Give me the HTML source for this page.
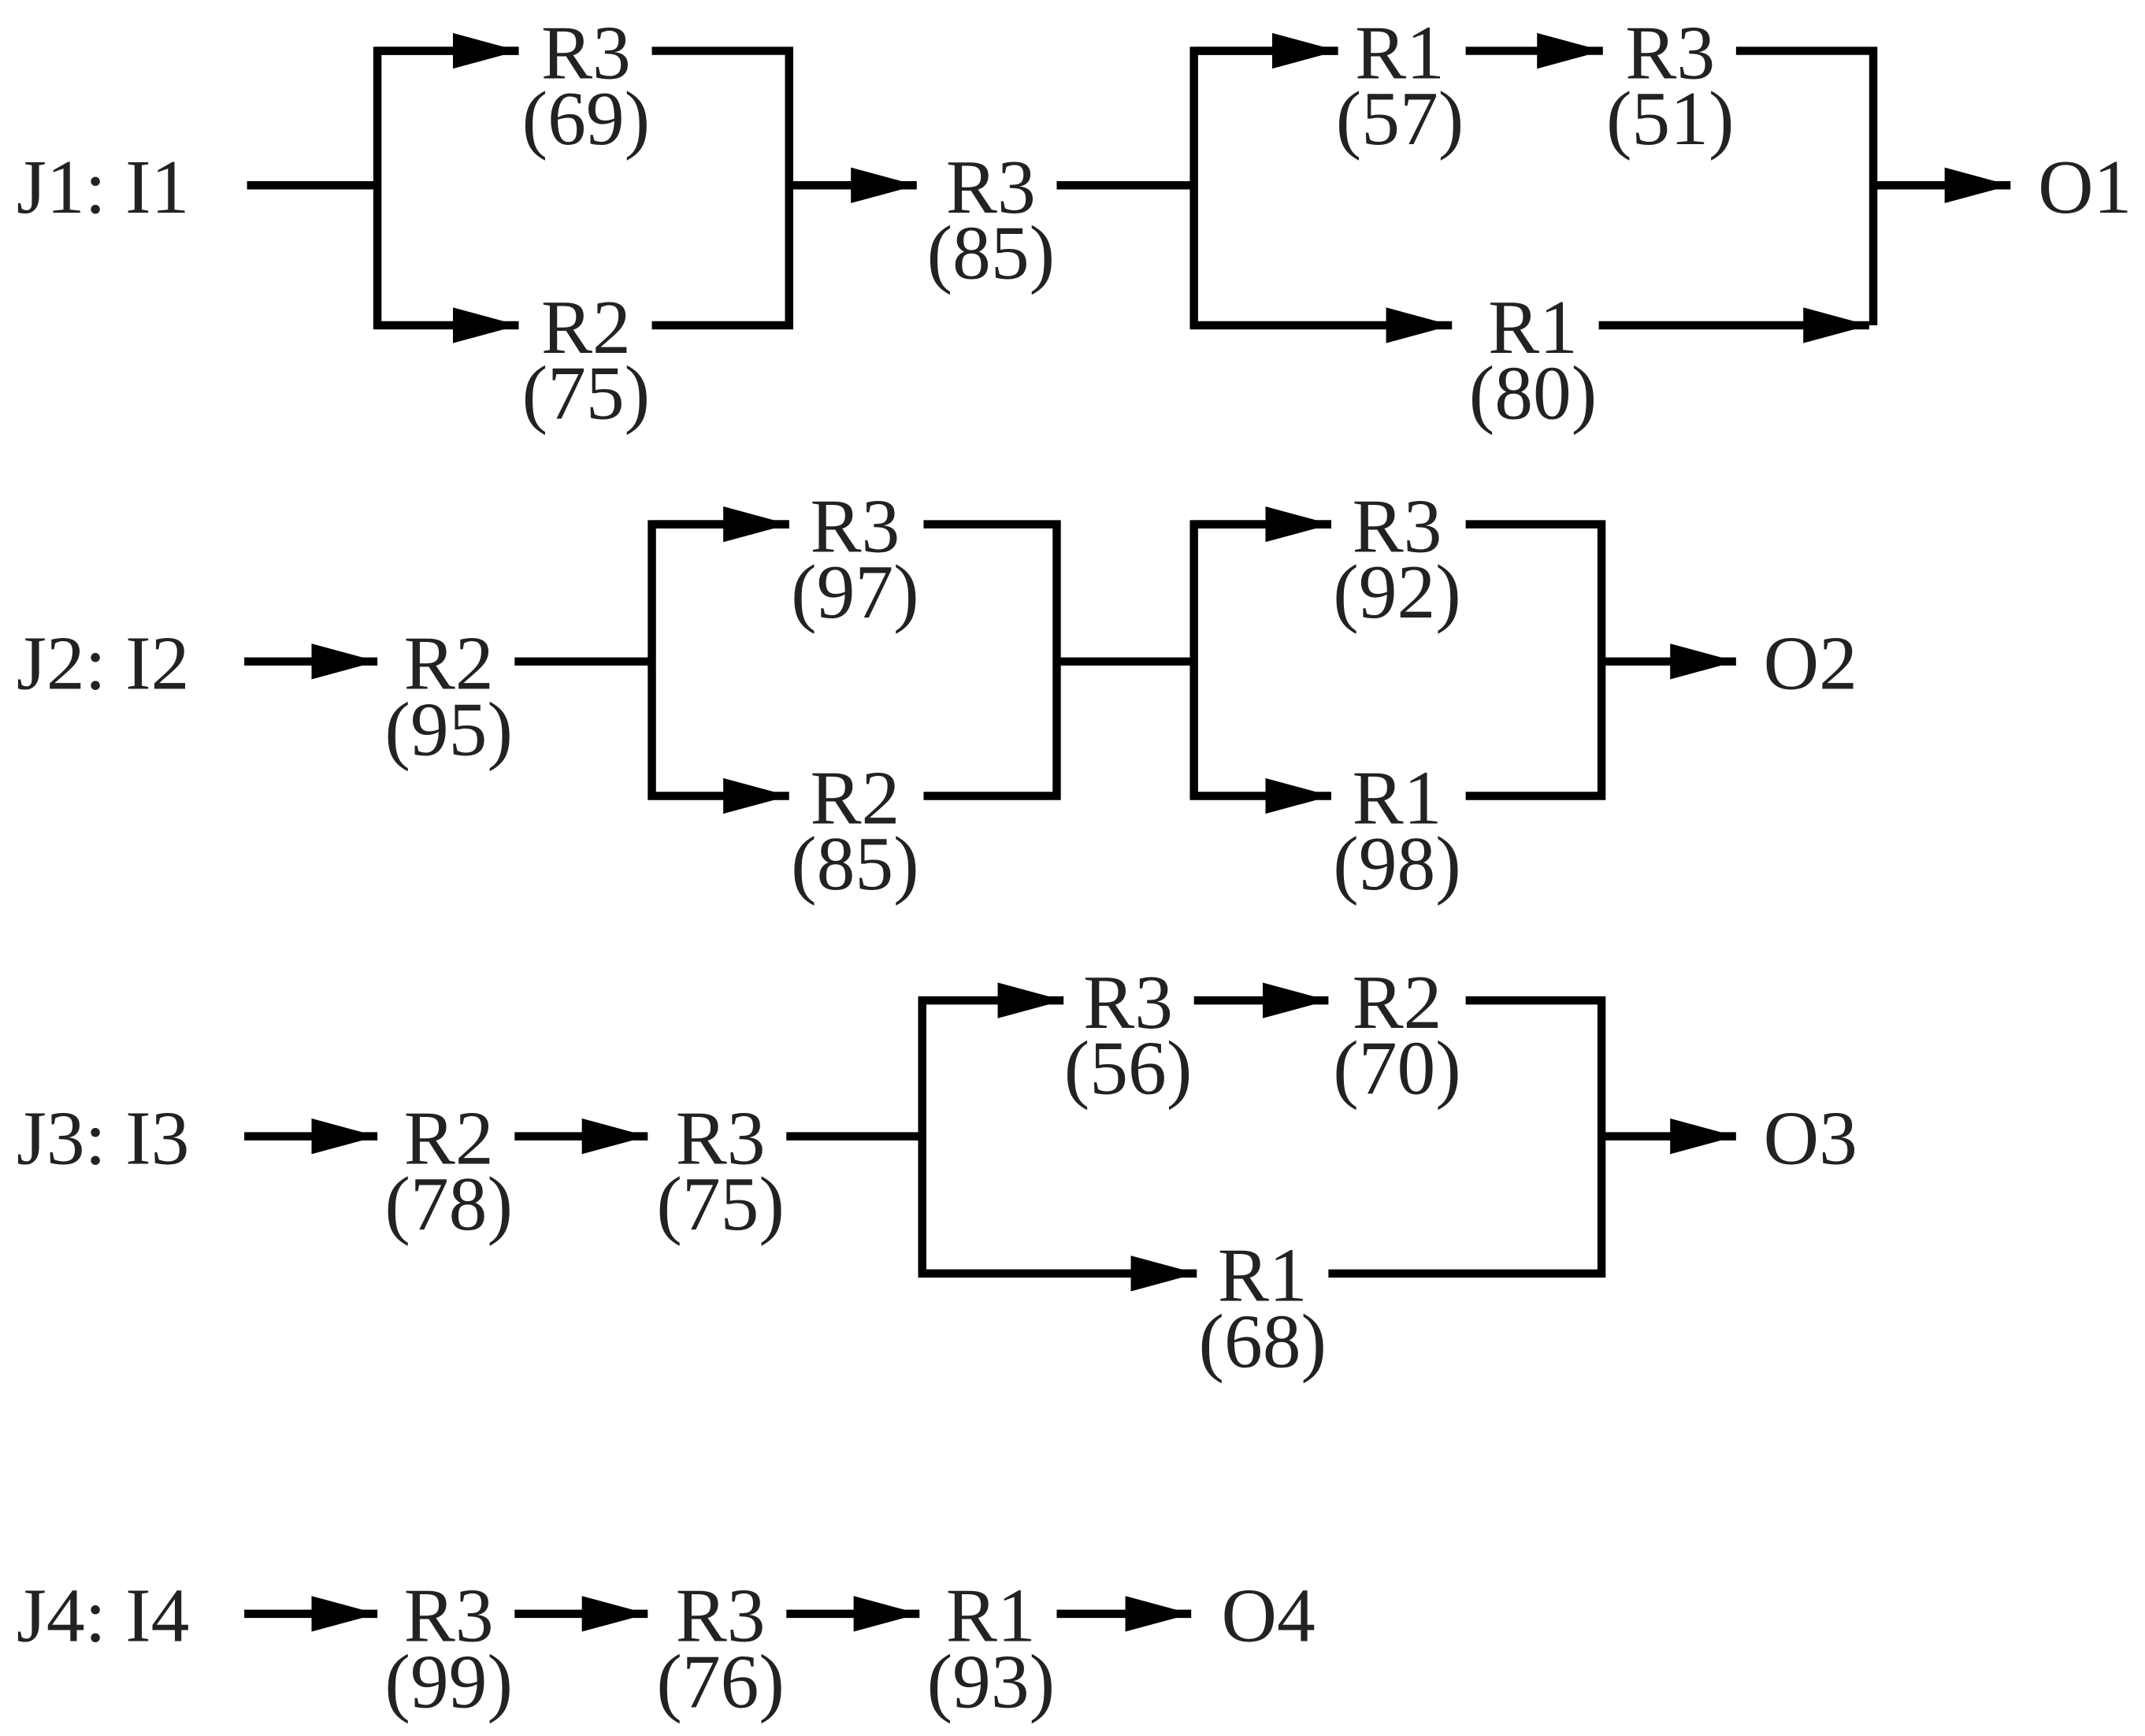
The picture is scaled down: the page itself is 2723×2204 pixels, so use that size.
<!DOCTYPE html>
<html><head><meta charset="utf-8"><style>html,body{margin:0;padding:0;background:#fff}svg{display:block}</style></head>
<body>
<svg xmlns="http://www.w3.org/2000/svg" width="2723" height="2204" viewBox="0 0 1563 1265">
<defs>
<marker id="a" markerUnits="userSpaceOnUse" markerWidth="50" markerHeight="30" refX="48" refY="13" orient="auto">
<polygon points="0,0 48,13 0,26" fill="#000"/>
</marker>
</defs>
<g stroke="#000" stroke-width="6" fill="none" stroke-linejoin="miter">
<!-- Row 1 -->
<line x1="180" y1="135" x2="275" y2="135"/>
<polyline points="378,37 275,37 275,237 378,237" marker-end="url(#a)"/>
<line x1="275" y1="37" x2="378" y2="37" marker-end="url(#a)"/>
<polyline points="475,37 575,37 575,237 475,237"/>
<line x1="575" y1="135" x2="668" y2="135" marker-end="url(#a)"/>
<line x1="770" y1="135" x2="870" y2="135"/>
<polyline points="975,37 870,37 870,237 1058,237" marker-end="url(#a)"/>
<line x1="870" y1="37" x2="975" y2="37" marker-end="url(#a)"/>
<line x1="1068" y1="37" x2="1168" y2="37" marker-end="url(#a)"/>
<polyline points="1265,37 1365,37 1365,237"/>
<line x1="1165" y1="237" x2="1362" y2="237" marker-end="url(#a)"/>
<line x1="1365" y1="135" x2="1465" y2="135" marker-end="url(#a)"/>
<!-- Row 2 -->
<line x1="178" y1="482" x2="275" y2="482" marker-end="url(#a)"/>
<line x1="375" y1="482" x2="475" y2="482"/>
<polyline points="575,382 475,382 475,580 575,580" marker-end="url(#a)"/>
<line x1="475" y1="382" x2="575" y2="382" marker-end="url(#a)"/>
<polyline points="673,382 770,382 770,580 673,580"/>
<line x1="770" y1="482" x2="870" y2="482"/>
<polyline points="970,382 870,382 870,580 970,580" marker-end="url(#a)"/>
<line x1="870" y1="382" x2="970" y2="382" marker-end="url(#a)"/>
<polyline points="1068,382 1167,382 1167,580 1068,580"/>
<line x1="1167" y1="482" x2="1265" y2="482" marker-end="url(#a)"/>
<!-- Row 3 -->
<line x1="178" y1="828" x2="275" y2="828" marker-end="url(#a)"/>
<line x1="375" y1="828" x2="472" y2="828" marker-end="url(#a)"/>
<line x1="573" y1="828" x2="672" y2="828"/>
<polyline points="872,928 672,928 672,729 775,729" marker-end="url(#a)"/>
<line x1="672" y1="928" x2="872" y2="928" marker-end="url(#a)"/>
<line x1="870" y1="729" x2="968" y2="729" marker-end="url(#a)"/>
<polyline points="1068,729 1167,729 1167,928 968,928"/>
<line x1="1167" y1="828" x2="1265" y2="828" marker-end="url(#a)"/>
<!-- Row 4 -->
<line x1="178" y1="1176" x2="275" y2="1176" marker-end="url(#a)"/>
<line x1="375" y1="1176" x2="472" y2="1176" marker-end="url(#a)"/>
<line x1="573" y1="1176" x2="670" y2="1176" marker-end="url(#a)"/>
<line x1="770" y1="1176" x2="868" y2="1176" marker-end="url(#a)"/>
</g>
<g font-family="Liberation Serif, serif" font-size="56" fill="#222">
<text x="12" y="155">J1: I1</text>
<text x="12" y="502">J2: I2</text>
<text x="12" y="848">J3: I3</text>
<text x="12" y="1196">J4: I4</text>
<text x="1485" y="155">O1</text>
<text x="1285" y="502">O2</text>
<text x="1285" y="848">O3</text>
<text x="890" y="1196">O4</text>
</g>
<g font-family="Liberation Serif, serif" font-size="56" fill="#222" text-anchor="middle">
<text x="427" y="57">R3</text><text x="427" y="105">(69)</text>
<text x="427" y="257">R2</text><text x="427" y="305">(75)</text>
<text x="722" y="155">R3</text><text x="722" y="203">(85)</text>
<text x="1020" y="57">R1</text><text x="1020" y="105">(57)</text>
<text x="1217" y="57">R3</text><text x="1217" y="105">(51)</text>
<text x="1117" y="257">R1</text><text x="1117" y="305">(80)</text>

<text x="327" y="502">R2</text><text x="327" y="550">(95)</text>
<text x="623" y="402">R3</text><text x="623" y="450">(97)</text>
<text x="623" y="600">R2</text><text x="623" y="648">(85)</text>
<text x="1018" y="402">R3</text><text x="1018" y="450">(92)</text>
<text x="1018" y="600">R1</text><text x="1018" y="648">(98)</text>

<text x="327" y="848">R2</text><text x="327" y="896">(78)</text>
<text x="525" y="848">R3</text><text x="525" y="896">(75)</text>
<text x="822" y="749">R3</text><text x="822" y="797">(56)</text>
<text x="1018" y="749">R2</text><text x="1018" y="797">(70)</text>
<text x="920" y="948">R1</text><text x="920" y="996">(68)</text>

<text x="327" y="1196">R3</text><text x="327" y="1244">(99)</text>
<text x="525" y="1196">R3</text><text x="525" y="1244">(76)</text>
<text x="722" y="1196">R1</text><text x="722" y="1244">(93)</text>
</g>
</svg>
</body></html>
